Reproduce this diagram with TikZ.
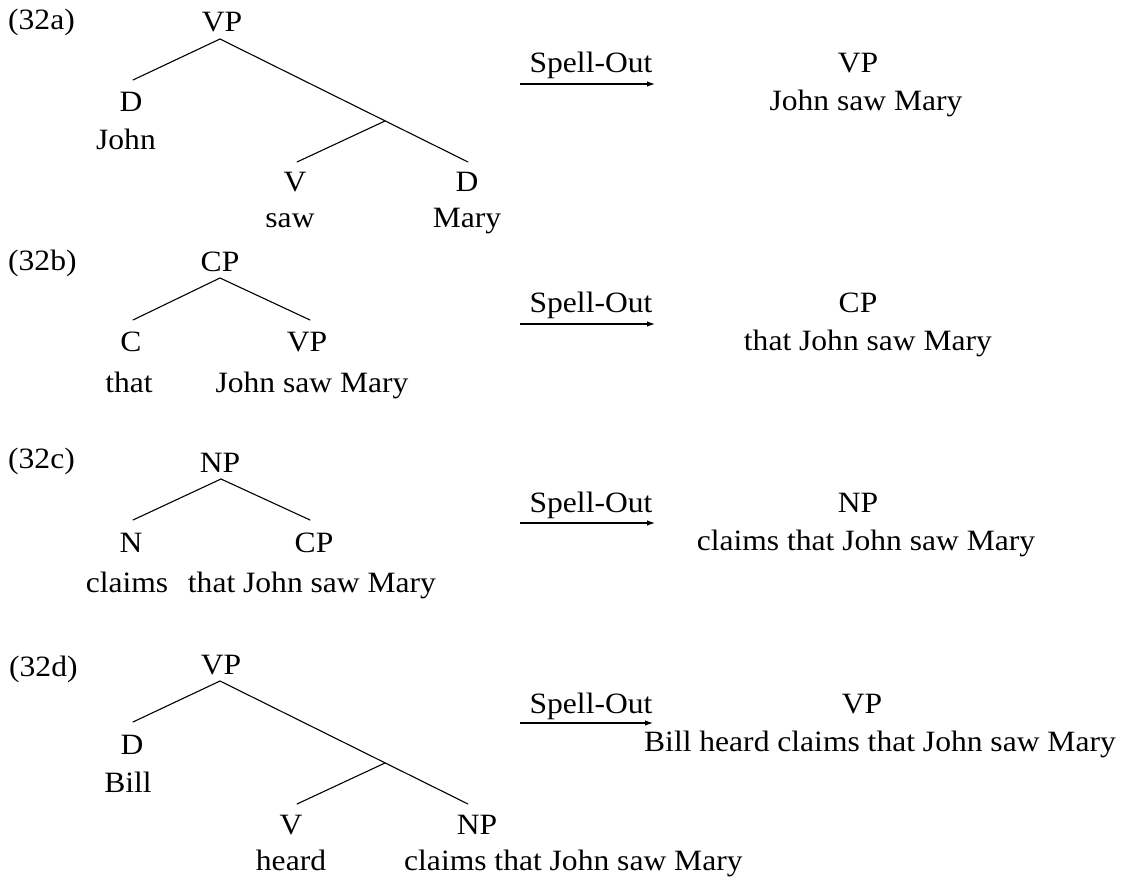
\documentclass[tikz,border=0pt]{standalone}
\usepackage{fontspec}
\setmainfont{Liberation Serif}[FakeStretch=1.07]
\usetikzlibrary{arrows.meta}
\begin{document}
\begin{tikzpicture}[x=1pt,y=-1pt,
  lbl/.style={anchor=base,inner sep=0pt,font=\fontsize{29.5}{34}\selectfont},
  exno/.style={lbl,anchor=base west},
  edge/.style={line width=1.1pt,line cap=round},
  spell/.style={line width=1.1pt,-{Latex[length=8pt,width=5.5pt]}}]
\useasboundingbox (0,0) rectangle (1128,877);

% (32a)
\node[exno] (a-ex) at (8,30) {(32a)};
\node[lbl] (a-vp) at (222,32) {VP};
\coordinate (a-top) at (220,39);
\coordinate (a-l) at (133,80);
\coordinate (a-r) at (468,162);
\coordinate (a-m) at (385,121);
\coordinate (a-ml) at (297,162);
\draw[edge] (a-top) -- (a-l);
\draw[edge] (a-top) -- (a-r);
\draw[edge] (a-m) -- (a-ml);
\node[lbl] (a-d) at (131,112) {D};
\node[lbl] (a-john) at (126,150) {John};
\node[lbl] (a-v) at (295,192) {V};
\node[lbl] (a-saw) at (290,228) {saw};
\node[lbl] (a-d2) at (467,192) {D};
\node[lbl] (a-mary) at (467,228) {Mary};
\node[lbl] (a-so) at (591,73) {Spell-Out};
\coordinate (a-s0) at (520,84);
\coordinate (a-s1) at (655,84);
\draw[spell] (a-s0) -- (a-s1);
\node[lbl] (a-res) at (858,73) {VP};
\node[lbl] (a-out) at (866,111) {John saw Mary};

% (32b)
\node[exno] (b-ex) at (8,271) {(32b)};
\node[lbl] (b-cp) at (220,272) {CP};
\coordinate (b-top) at (220,278);
\coordinate (b-l) at (133,320);
\coordinate (b-r) at (310,320);
\draw[edge] (b-top) -- (b-l);
\draw[edge] (b-top) -- (b-r);
\node[lbl] (b-c) at (131,352) {C};
\node[lbl] (b-vp) at (307,352) {VP};
\node[lbl] (b-that) at (129,392) {that};
\node[lbl] (b-jsm) at (312,392) {John saw Mary};
\node[lbl] (b-so) at (591,313) {Spell-Out};
\coordinate (b-s0) at (520,324);
\coordinate (b-s1) at (655,324);
\draw[spell] (b-s0) -- (b-s1);
\node[lbl] (b-res) at (858,313) {CP};
\node[lbl] (b-out) at (868,351) {that John saw Mary};

% (32c)
\node[exno] (c-ex) at (8,468) {(32c)};
\node[lbl] (c-np) at (220,472) {NP};
\coordinate (c-top) at (221,479);
\coordinate (c-l) at (133,520);
\coordinate (c-r) at (310,520);
\draw[edge] (c-top) -- (c-l);
\draw[edge] (c-top) -- (c-r);
\node[lbl] (c-n) at (131,552) {N};
\node[lbl] (c-cp) at (314,552) {CP};
\node[lbl] (c-claims) at (127,592) {claims};
\node[lbl] (c-tjsm) at (312,592) {that John saw Mary};
\node[lbl] (c-so) at (591,512) {Spell-Out};
\coordinate (c-s0) at (520,523);
\coordinate (c-s1) at (655,523);
\draw[spell] (c-s0) -- (c-s1);
\node[lbl] (c-res) at (858,512) {NP};
\node[lbl] (c-out) at (866,550) {claims that John saw Mary};

% (32d)
\node[exno] (d-ex) at (9,676) {(32d)};
\node[lbl] (d-vp) at (221,674) {VP};
\coordinate (d-top) at (220,681);
\coordinate (d-l) at (133,722);
\coordinate (d-r) at (468,804);
\coordinate (d-m) at (385,763);
\coordinate (d-ml) at (297,804);
\draw[edge] (d-top) -- (d-l);
\draw[edge] (d-top) -- (d-r);
\draw[edge] (d-m) -- (d-ml);
\node[lbl] (d-d) at (132,754) {D};
\node[lbl] (d-bill) at (128,792) {Bill};
\node[lbl] (d-v) at (291,834) {V};
\node[lbl] (d-np) at (477,834) {NP};
\node[lbl] (d-heard) at (291,870) {heard};
\node[lbl,anchor=base west] (d-ctjsm) at (404,870) {claims that John saw Mary};
\node[lbl] (d-so) at (591,713) {Spell-Out};
\coordinate (d-s0) at (520,723);
\coordinate (d-s1) at (653,723);
\draw[spell] (d-s0) -- (d-s1);
\node[lbl] (d-res) at (862,713) {VP};
\node[lbl] (d-out) at (880,751) {Bill heard claims that John saw Mary};
\end{tikzpicture}
\end{document}
